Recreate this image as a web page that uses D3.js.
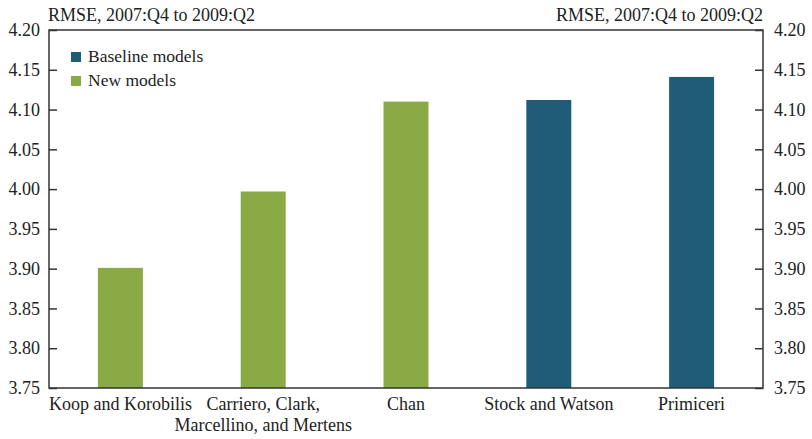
<!DOCTYPE html>
<html>
<head>
<meta charset="utf-8">
<script src="https://cdn.jsdelivr.net/npm/d3@7"></script>
<style>
  body { margin: 0; background: #fff; }
  text { font-family: "Liberation Serif", "DejaVu Serif", serif; fill: #222; }
</style>
</head>
<body>
<svg width="812" height="439"></svg>
<script>
// data
const models = ['Koop and Korobilis', 'Carriero, Clark,|Marcellino, and Mertens', 'Chan', 'Stock and Watson', 'Primiceri'];
const rmse = [3.901, 3.997, 4.110, 4.112, 4.141];
const group = ['New', 'New', 'New', 'Baseline', 'Baseline'];
const yTicks = [3.75, 3.80, 3.85, 3.90, 3.95, 4.00, 4.05, 4.10, 4.15, 4.20];
const legendItems = ['Baseline models', 'New models'];

const colors = { Baseline: '#1f5c78', New: '#8aaa45' };
const unitLabel = 'RMSE, 2007:Q4 to 2009:Q2';

const svg = d3.select('svg');
const margin = { top: 30, right: 49, bottom: 51, left: 49 };
const width = 812 - margin.left - margin.right;
const height = 439 - margin.top - margin.bottom;

const g = svg.append('g')
  .attr('transform', `translate(${margin.left},${margin.top})`);

const x = d3.scaleBand()
  .domain(models)
  .range([0, width])
  .paddingInner(0.685)
  .paddingOuter(0.3425);

const y = d3.scaleLinear()
  .domain([3.75, 4.20])
  .range([height, 0]);

// bars
g.selectAll('rect.bar').data(models)
  .enter().append('rect')
  .attr('class', 'bar')
  .attr('x', d => x(d))
  .attr('width', x.bandwidth())
  .attr('y', (d, i) => y(rmse[i]))
  .attr('height', (d, i) => y(3.75) - y(rmse[i]))
  .attr('fill', (d, i) => colors[group[i]]);

// frame
g.append('rect')
  .attr('width', width)
  .attr('height', height)
  .attr('fill', 'none')
  .attr('stroke', '#333')
  .attr('stroke-width', 1.5);

// y axes, ticks point inward
const fmt = d3.format('.2f');
const leftAxis = d3.axisLeft(y).tickValues(yTicks).tickFormat(fmt)
  .tickSizeInner(-8).tickSizeOuter(0).tickPadding(9);
const rightAxis = d3.axisRight(y).tickValues(yTicks).tickFormat(fmt)
  .tickSizeInner(-8).tickSizeOuter(0).tickPadding(11);

const la = g.append('g').call(leftAxis);
const ra = g.append('g').attr('transform', `translate(${width},0)`).call(rightAxis);
[la, ra].forEach(a => {
  a.attr('font-family', null);
  a.select('.domain').remove();
  a.selectAll('line').attr('stroke', '#333').attr('stroke-width', 1.5);
  a.selectAll('text')
    .style('font-family', '"Liberation Serif", serif')
    .style('font-size', '18px')
    .attr('fill', '#222');
});

// x labels
const xa = g.append('g').attr('transform', `translate(0,${height})`);
models.forEach(m => {
  const lines = m.split('|');
  const t = xa.append('text')
    .attr('x', x(m) + x.bandwidth() / 2)
    .attr('text-anchor', 'middle')
    .style('font-size', '18px');
  lines.forEach((l, i) => {
    t.append('tspan')
      .attr('x', x(m) + x.bandwidth() / 2)
      .attr('y', 22 + i * 21)
      .text(l);
  });
});

// unit labels
svg.append('text')
  .attr('x', margin.left - 1).attr('y', 21)
  .style('font-size', '18px')
  .text(unitLabel);
svg.append('text')
  .attr('x', margin.left + width).attr('y', 21)
  .attr('text-anchor', 'end')
  .style('font-size', '18px')
  .text(unitLabel);

// legend
const leg = g.selectAll('g.leg').data(legendItems)
  .enter().append('g')
  .attr('class', 'leg')
  .attr('transform', (d, i) => `translate(22,${22 + i * 24})`);
leg.append('rect')
  .attr('width', 10).attr('height', 10)
  .attr('fill', (d, i) => i === 0 ? colors.Baseline : colors.New);
leg.append('text')
  .attr('x', 17).attr('y', 9.5)
  .style('font-size', '17.5px')
  .text(d => d);
</script>
</body>
</html>
